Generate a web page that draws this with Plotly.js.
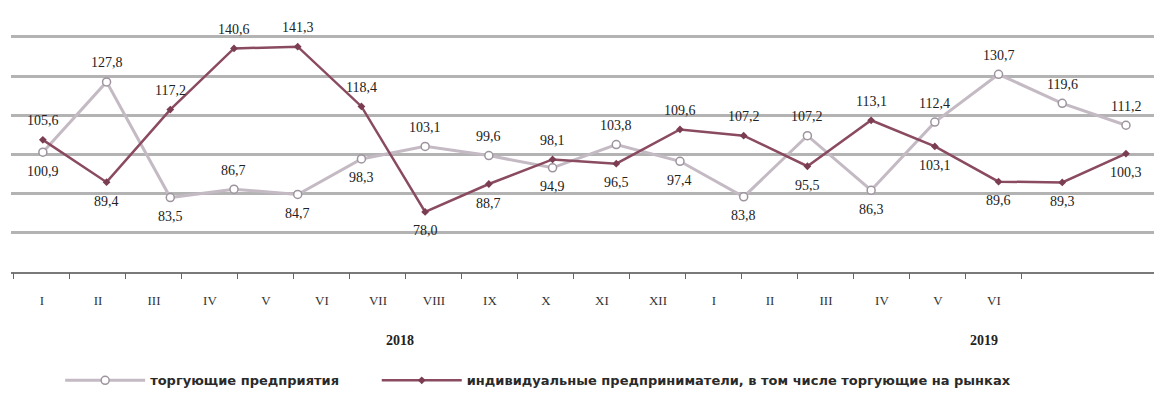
<!DOCTYPE html>
<html>
<head>
<meta charset="utf-8">
<script src="https://cdn.plot.ly/plotly-3.0.1.min.js"></script>
<style>html,body{margin:0;padding:0;background:#fff;}#chart{width:1154px;height:401px;}</style>
</head>
<body>
<div id="chart"></div>
<script>
// Month tick labels (Jan 2018 – Jun 2019)
const months = ['I','II','III','IV','V','VI','VII','VIII','IX','X','XI','XII','I','II','III','IV','V','VI'];
const years = ['2018', '2019'];
const seriesNames = ['торгующие предприятия', 'индивидуальные предприниматели, в том числе торгующие на рынках'];
// торгующие предприятия
const trade = [100.9, 127.8, 83.5, 86.7, 84.7, 98.3, 103.1, 99.6, 94.9, 103.8, 97.4, 83.8, 107.2, 86.3, 112.4, 130.7, 119.6, 111.2];
// индивидуальные предприниматели
const entrepreneurs = [105.6, 89.4, 117.2, 140.6, 141.3, 118.4, 78.0, 88.7, 98.1, 96.5, 109.6, 107.2, 95.5, 113.1, 103.1, 89.6, 89.3, 100.3];

// label placement (style only): 1 = above, -1 = below
const tradeLabelSide = [-1, 1, -1, 1, -1, -1, 1, 1, -1, 1, -1, -1, 1, -1, 1, 1, 1, 1];
const entLabelSide = [1, -1, 1, 1, 1, 1, -1, -1, 1, -1, 1, 1, -1, 1, -1, -1, -1, -1];

const idx = months.map((_, i) => i);
const boundaries = idx.concat([idx.length]).map(i => i - 0.5);
const fmt = v => v.toFixed(1).replace('.', ',');

const traces = [
  {
    x: idx, y: trade, name: seriesNames[0], type: 'scatter', mode: 'lines+markers',
    line: {color: '#c4bac4', width: 3},
    marker: {symbol: 'circle', size: 8, color: '#ffffff', line: {color: '#9d949d', width: 1.5}},
    xaxis: 'x', yaxis: 'y', legend: 'legend'
  },
  {
    x: idx, y: entrepreneurs, name: seriesNames[1], type: 'scatter', mode: 'lines+markers',
    line: {color: '#8a4a5f', width: 2.5},
    marker: {symbol: 'diamond', size: 6, color: '#7a3d52'},
    xaxis: 'x', yaxis: 'y', legend: 'legend2'
  },
  {
    // invisible carrier for the month tick-label axis
    x: idx, y: idx.map(() => 0), type: 'scatter', mode: 'markers',
    marker: {opacity: 0, size: 1},
    xaxis: 'x2', yaxis: 'y2', showlegend: false, hoverinfo: 'skip'
  },
  {
    // invisible carrier for the boundary tick-mark axis
    x: idx, y: idx.map(() => 0), type: 'scatter', mode: 'markers',
    marker: {opacity: 0, size: 1},
    xaxis: 'x3', yaxis: 'y3', showlegend: false, hoverinfo: 'skip'
  }
];

const labelFont = {family: 'Liberation Serif, serif', size: 14, color: '#222'};
const annotations = [];
trade.forEach((v, i) => annotations.push({
  x: i, y: v, xref: 'x', yref: 'y', text: fmt(v), showarrow: false,
  yshift: 19 * tradeLabelSide[i], font: labelFont
}));
entrepreneurs.forEach((v, i) => annotations.push({
  x: i, y: v, xref: 'x', yref: 'y', text: fmt(v), showarrow: false,
  yshift: 19 * entLabelSide[i], font: labelFont
}));
const yearFont = {family: 'Liberation Serif, serif', size: 14, color: '#222'};
annotations.push({x: 0.34, y: -0.31, xref: 'paper', yref: 'paper', text: '<b>' + years[0] + '</b>', showarrow: false, font: yearFont});
annotations.push({x: 0.865, y: -0.31, xref: 'paper', yref: 'paper', text: '<b>' + years[1] + '</b>', showarrow: false, font: yearFont});

const legendFont = {family: 'DejaVu Sans, sans-serif', size: 13, color: '#2a2a2a', weight: 'bold'};
const tickDomain = [0.0026, 0.8845];
const layout = {
  width: 1154, height: 401,
  margin: {l: 11, r: 0, t: 20, b: 129},
  paper_bgcolor: '#ffffff', plot_bgcolor: 'rgba(0,0,0,0)',
  showlegend: true,
  xaxis: {
    range: [-0.5, 17.44], domain: [0, 1],
    showgrid: false, zeroline: false, showticklabels: false, ticks: '',
    showline: true, linecolor: '#7a7a7a', linewidth: 2, fixedrange: true
  },
  xaxis2: {
    range: [-0.5, 17.5], domain: tickDomain, anchor: 'y2',
    tickmode: 'array', tickvals: idx, ticktext: months, ticks: '',
    showgrid: false, zeroline: false, showline: false,
    ticklabelstandoff: 19,
    tickfont: {family: 'Liberation Serif, serif', size: 13, color: '#333'}
  },
  xaxis3: {
    range: [-0.5, 17.5], domain: tickDomain, anchor: 'y3',
    tickmode: 'array', tickvals: boundaries, ticktext: boundaries.map(() => ''),
    ticks: 'outside', ticklen: 6, tickwidth: 1, tickcolor: '#666666',
    showticklabels: true, showgrid: false, zeroline: false, showline: false
  },
  yaxis: {
    range: [55, 151.5], tick0: 55, dtick: 15, domain: [0, 1],
    showgrid: true, gridcolor: '#b3b3b3', gridwidth: 3,
    zeroline: false, showticklabels: false, ticks: '', showline: false, fixedrange: true
  },
  yaxis2: {range: [0, 1], domain: [0, 1], anchor: 'x2', showgrid: false, zeroline: false, showticklabels: false, ticks: '', showline: false},
  yaxis3: {range: [0, 1], domain: [0, 1], anchor: 'x3', showgrid: false, zeroline: false, showticklabels: false, ticks: '', showline: false},
  legend: {
    orientation: 'h', x: 0.043, y: -0.43, xanchor: 'left', yanchor: 'middle',
    font: legendFont, itemwidth: 80, bgcolor: 'rgba(0,0,0,0)'
  },
  legend2: {
    orientation: 'h', x: 0.32, y: -0.43, xanchor: 'left', yanchor: 'middle',
    font: legendFont, itemwidth: 80, bgcolor: 'rgba(0,0,0,0)'
  },
  annotations: annotations
};

Plotly.newPlot('chart', traces, layout, {displayModeBar: false, staticPlot: true});
</script>
</body>
</html>
